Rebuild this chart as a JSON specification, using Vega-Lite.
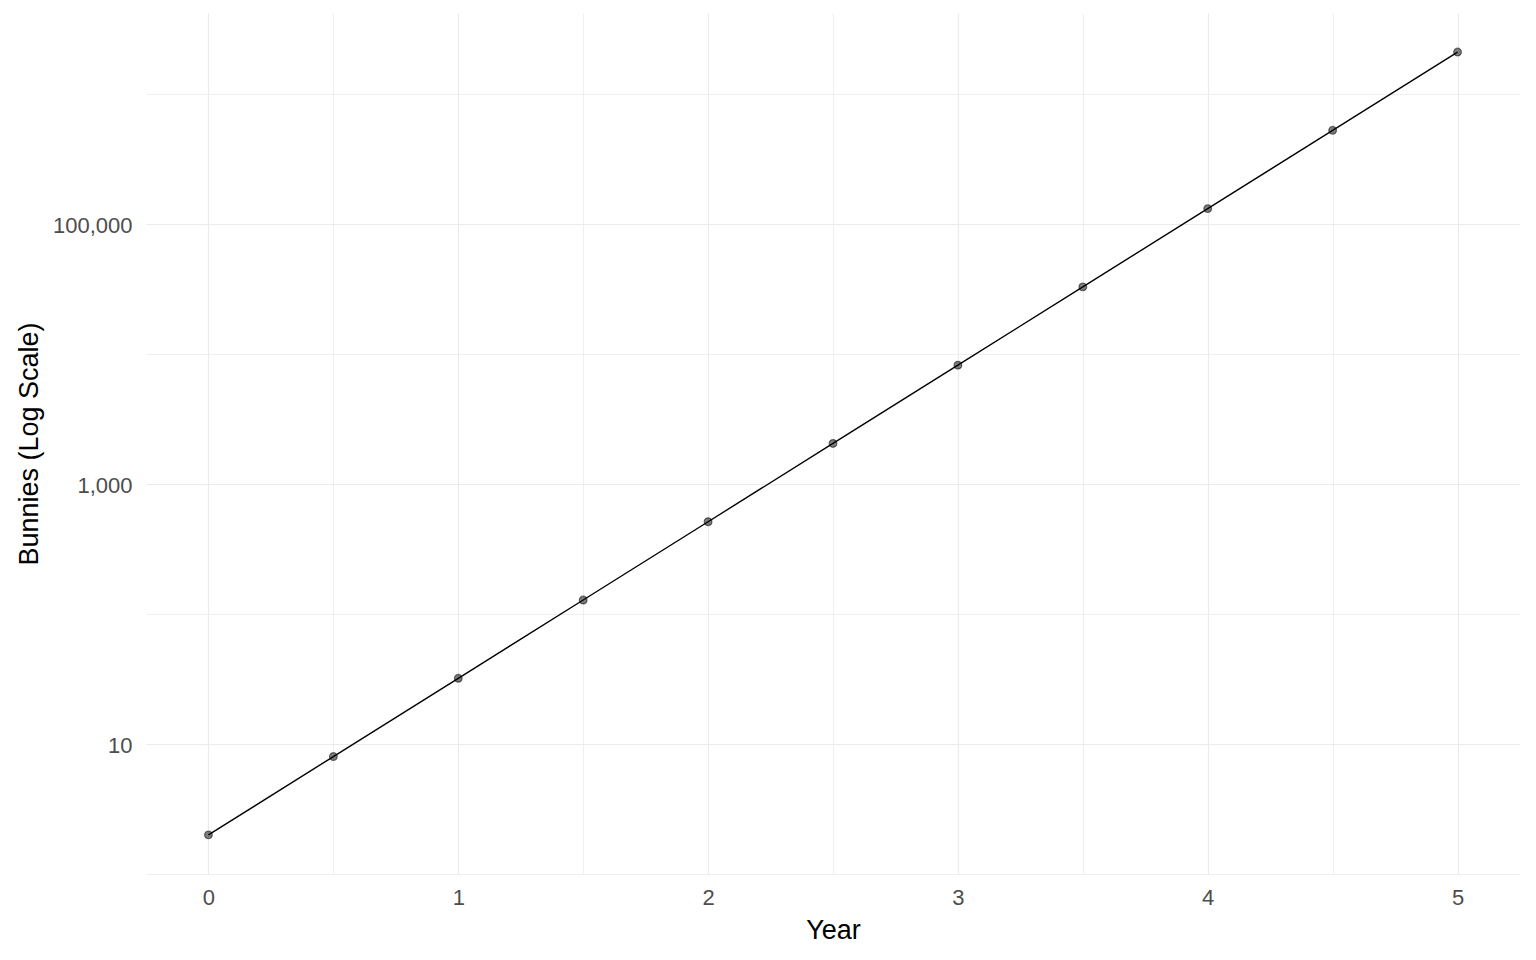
{
  "$schema": "https://vega.github.io/schema/vega-lite/v6.json",
  "width": 1374,
  "height": 861,
  "autosize": "none",
  "padding": {"left": 146, "top": 13, "right": 16, "bottom": 86},
  "background": "white",
  "config": {
    "view": {"stroke": null},
    "font": "Liberation Sans"
  },
  "data": {
    "values": [
      {"year": 0, "bunnies": 2},
      {"year": 0.5, "bunnies": 8},
      {"year": 1, "bunnies": 32},
      {"year": 1.5, "bunnies": 128},
      {"year": 2, "bunnies": 512},
      {"year": 2.5, "bunnies": 2048},
      {"year": 3, "bunnies": 8192},
      {"year": 3.5, "bunnies": 32768},
      {"year": 4, "bunnies": 131072},
      {"year": 4.5, "bunnies": 524288},
      {"year": 5, "bunnies": 2097152}
    ]
  },
  "encoding": {
    "x": {
      "field": "year",
      "type": "quantitative",
      "scale": {"domain": [-0.25, 5.25], "nice": false, "zero": false},
      "axis": {
        "title": "Year",
        "values": [0, 0.5, 1, 1.5, 2, 2.5, 3, 3.5, 4, 4.5, 5],
        "labelExpr": "datum.value % 1 === 0 ? format(datum.value, 'd') : ''",
        "gridWidth": {"condition": {"test": "datum.value % 1 === 0", "value": 1.2}, "value": 0.8},
        "gridColor": "#EBEBEB",
        "domain": false,
        "ticks": false,
        "labelFont": "Liberation Sans",
        "labelFontSize": 22,
        "labelColor": "#4D4D4D",
        "labelPadding": 13,
        "titleFont": "Liberation Sans",
        "titleFontSize": 27,
        "titleFontWeight": "normal",
        "titleColor": "#000000",
        "titlePadding": 9
      }
    },
    "y": {
      "field": "bunnies",
      "type": "quantitative",
      "scale": {"type": "log", "domain": [1, 4187936], "nice": false},
      "axis": {
        "title": "Bunnies (Log Scale)",
        "values": [1, 10, 100, 1000, 10000, 100000, 1000000],
        "labelExpr": "(datum.value === 10 || datum.value === 1000 || datum.value === 100000) ? format(datum.value, ',') : ''",
        "gridWidth": {"condition": {"test": "datum.value === 10 || datum.value === 1000 || datum.value === 100000", "value": 1.2}, "value": 0.8},
        "gridColor": "#EBEBEB",
        "domain": false,
        "ticks": false,
        "labelFont": "Liberation Sans",
        "labelFontSize": 22,
        "labelColor": "#4D4D4D",
        "labelPadding": 14,
        "labelBaseline": "middle",
        "labelOffset": 2,
        "titleFont": "Liberation Sans",
        "titleFontSize": 27,
        "titleFontWeight": "normal",
        "titleColor": "#000000",
        "titlePadding": 9
      }
    }
  },
  "layer": [
    {
      "mark": {"type": "line", "color": "black", "strokeWidth": 1.4}
    },
    {
      "mark": {"type": "point", "filled": true, "color": "black", "fillOpacity": 0.5, "strokeOpacity": 0.5, "stroke": "black", "strokeWidth": 1.2, "size": 60, "opacity": 1}
    }
  ]
}
